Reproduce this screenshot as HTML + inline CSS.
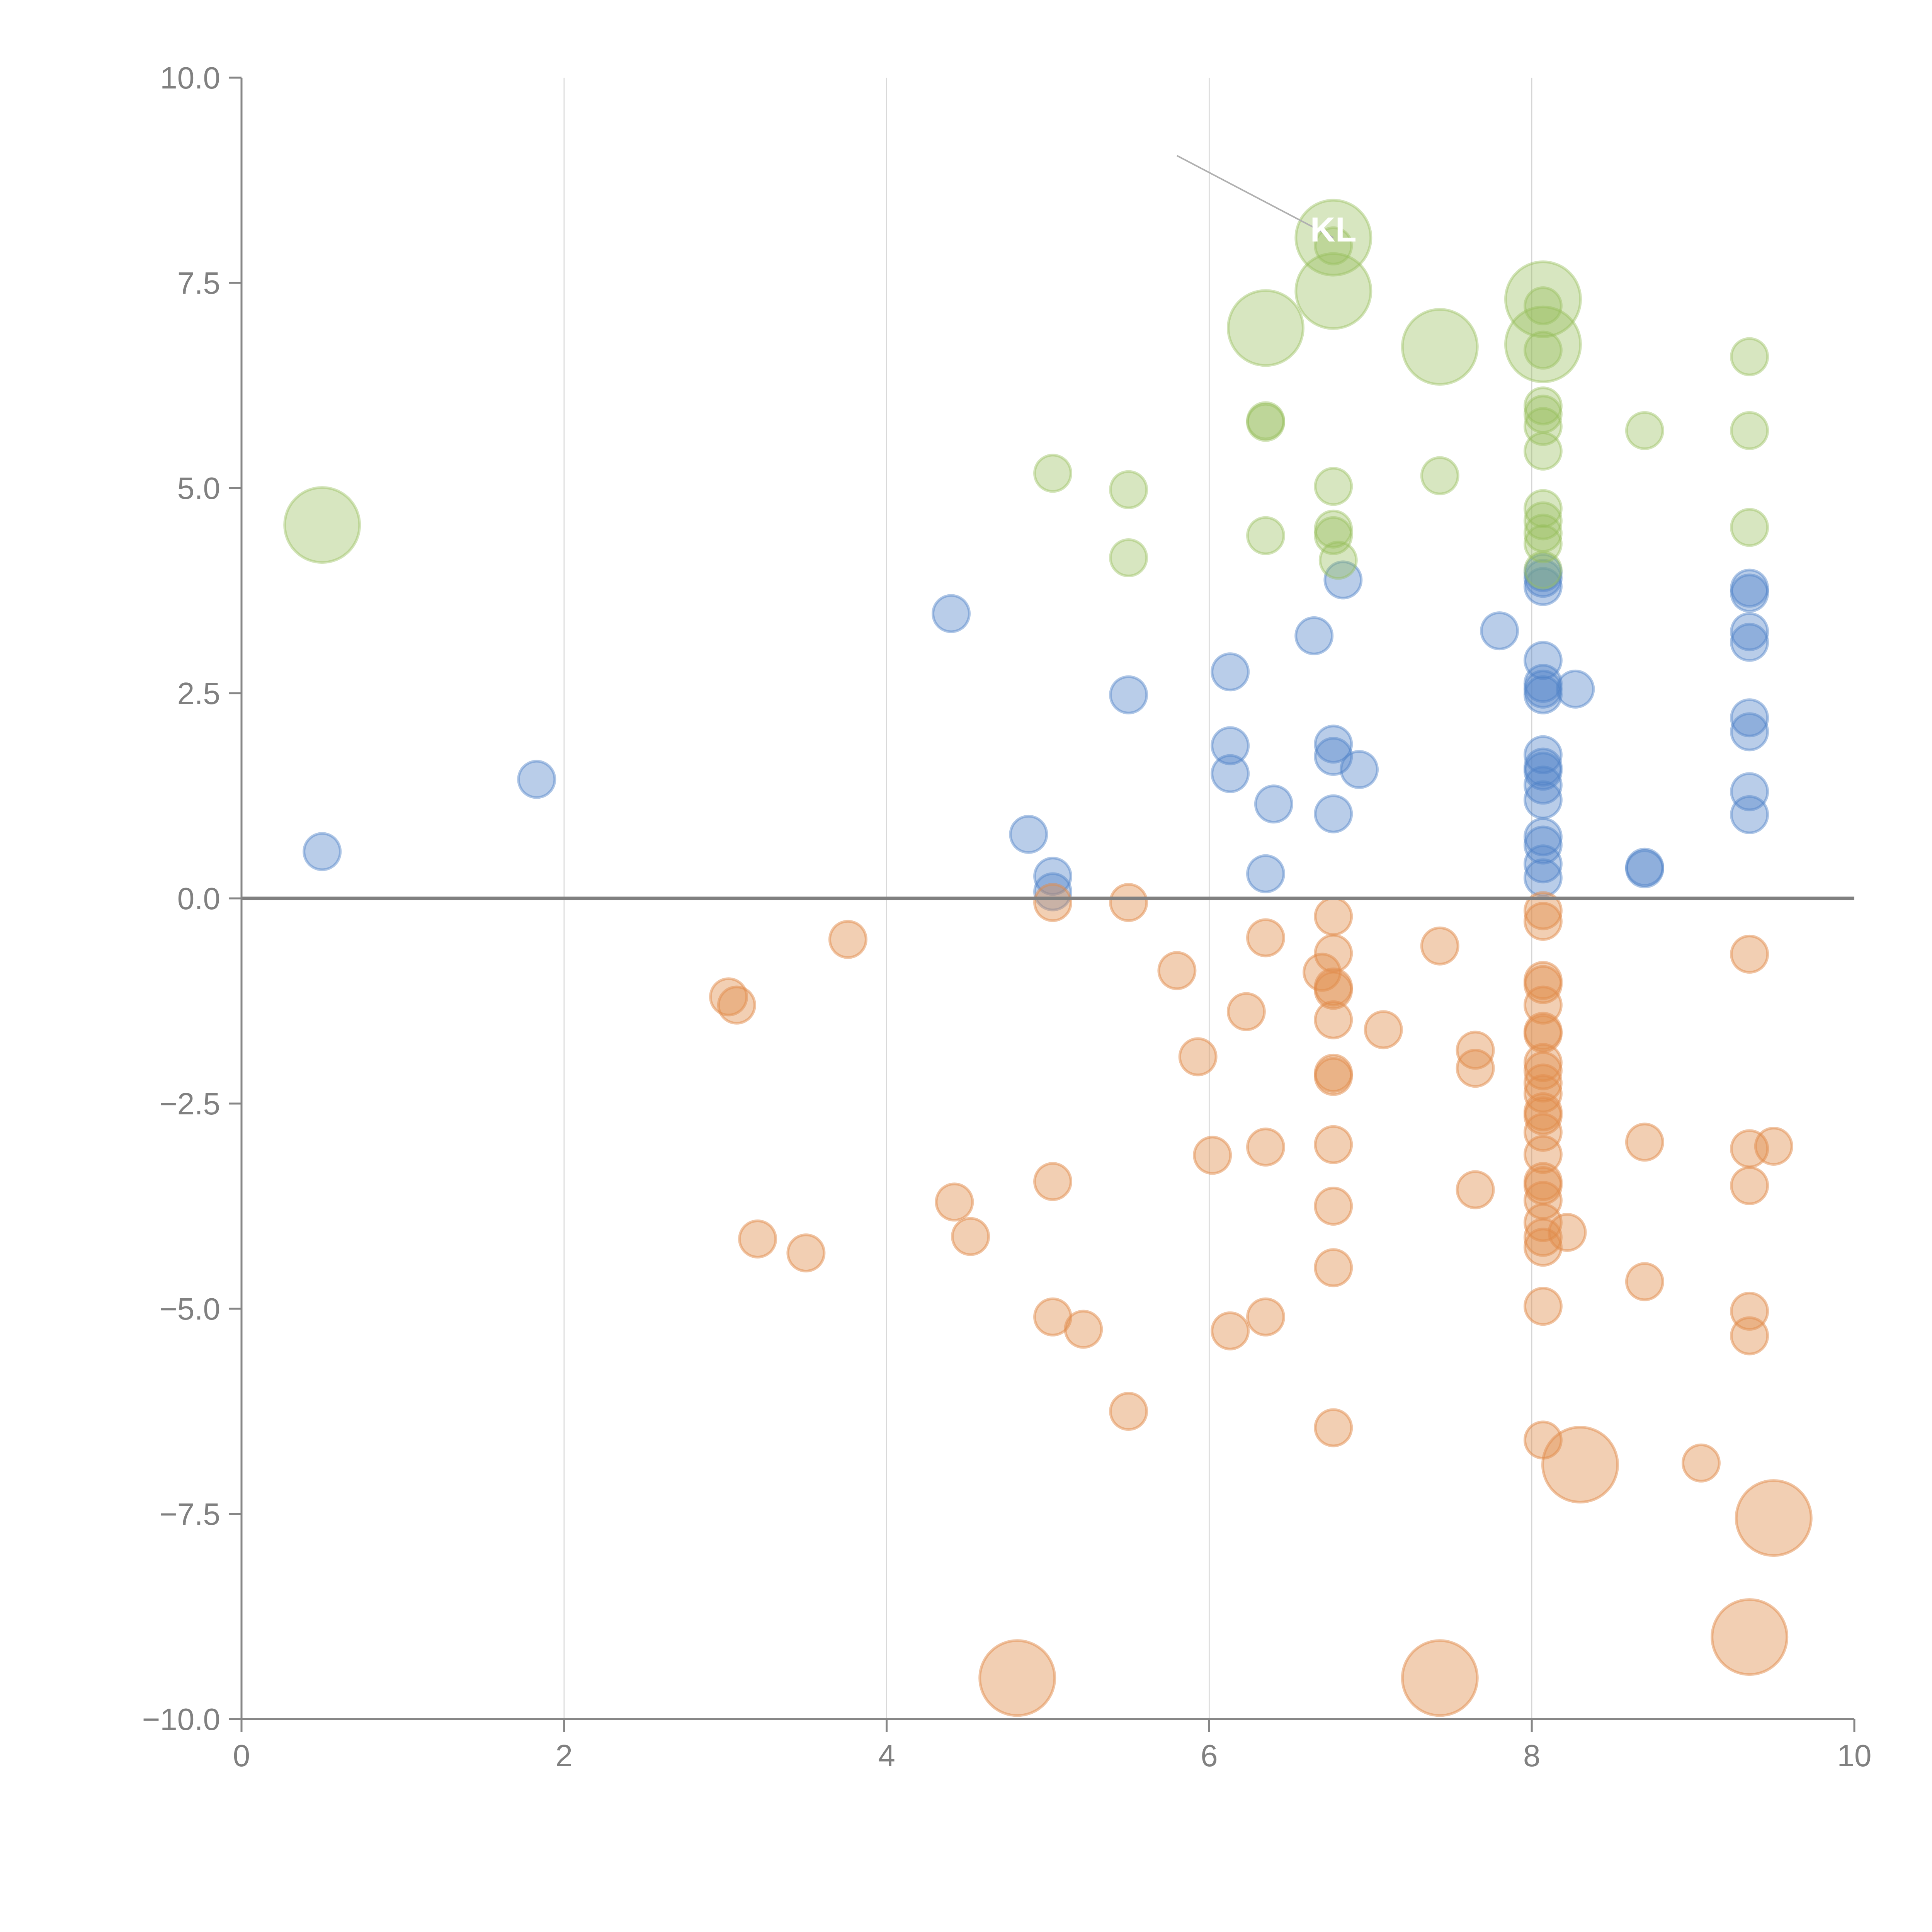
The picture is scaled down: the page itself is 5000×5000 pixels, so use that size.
<!DOCTYPE html>
<html><head><meta charset="utf-8"><style>
html,body{margin:0;padding:0;background:#fff}
svg{display:block}
text{font-family:"Liberation Sans",Arial,sans-serif}
</style></head><body>
<svg id="chart" width="5000" height="5000" viewBox="0 0 5000 5000"></svg>
<script>
const xTicks=[0,2,4,6,8,10];
const yTicks=[-10,-7.5,-5,-2.5,0,2.5,5,7.5,10];
const yTickLabels=["\u221210.0","\u22127.5","\u22125.0","\u22122.5","0.0","2.5","5.0","7.5","10.0"];
const greenX=[0.5,6.35,6.77,6.77,7.43,8.07,8.07,5.03,5.5,5.5,6.35,6.35,6.35,6.77,6.77,6.77,6.8,6.77,7.43,8.07,8.07,8.07,8.07,8.07,8.07,8.07,8.07,8.07,8.07,8.07,8.7,9.35,9.35,9.35];
const greenY=[4.55,6.95,7.4,8.05,6.72,7.3,6.75,5.18,4.98,4.15,5.8,5.82,4.42,5.02,4.5,4.42,4.12,7.95,5.15,7.22,6.68,6.0,5.9,5.75,5.45,4.75,4.6,4.45,4.32,4.0,5.7,6.6,5.7,4.52];
const greenBig=[1,1,1,1,1,1,1,0,0,0,0,0,0,0,0,0,0,0,0,0,0,0,0,0,0,0,0,0,0,0,0,0,0,0];
const blueX=[0.5,1.83,4.4,4.88,5.03,5.03,5.5,6.13,6.13,6.13,6.4,6.35,6.65,6.77,6.77,6.77,6.83,6.93,7.8,8.07,8.07,8.07,8.07,8.07,8.07,8.07,8.07,8.07,8.07,8.07,8.07,8.07,8.07,8.07,8.07,8.27,8.7,8.7,9.35,9.35,9.35,9.35,9.35,9.35,9.35,9.35];
const blueY=[0.57,1.45,3.47,0.78,0.27,0.08,2.48,2.76,1.86,1.52,1.15,0.3,3.2,1.88,1.73,1.03,3.88,1.57,3.26,3.97,3.9,3.8,2.9,2.62,2.55,2.48,1.75,1.6,1.55,1.38,1.2,0.75,0.65,0.42,0.25,2.55,0.38,0.36,3.78,3.72,3.25,3.12,2.2,2.03,1.3,1.02];
const orangeX=[3.02,3.07,3.2,3.5,3.76,4.42,4.52,5.03,5.03,5.03,5.22,5.5,5.5,5.8,5.93,6.02,6.13,6.23,6.35,6.35,6.35,6.7,6.77,6.77,6.77,6.77,6.77,6.77,6.77,6.77,6.77,6.77,6.77,7.08,7.43,7.65,7.65,7.65,8.07,8.07,8.07,8.07,8.07,8.07,8.07,8.07,8.07,8.07,8.07,8.07,8.07,8.07,8.07,8.07,8.07,8.07,8.07,8.07,8.07,8.07,8.07,8.22,8.7,8.7,9.05,9.35,9.35,9.35,9.35,9.35,9.5,4.81,7.43,8.3,9.35,9.5];
const orangeY=[-1.2,-1.3,-4.15,-4.32,-0.5,-3.7,-4.12,-0.05,-3.45,-5.1,-5.25,-0.05,-6.25,-0.88,-1.93,-3.13,-5.27,-1.38,-0.48,-3.03,-5.1,-0.9,-0.22,-0.67,-1.08,-1.12,-1.48,-2.13,-2.17,-3.0,-3.75,-4.5,-6.45,-1.6,-0.58,-1.85,-2.07,-3.55,-0.15,-0.28,-1.0,-1.05,-1.3,-1.62,-1.65,-2.0,-2.1,-2.25,-2.38,-2.6,-2.65,-2.85,-3.12,-3.45,-3.5,-3.68,-3.95,-4.13,-4.25,-4.97,-6.6,-4.07,-2.97,-4.67,-6.88,-0.68,-3.05,-3.5,-5.03,-5.33,-3.02,-9.5,-9.5,-6.9,-9.0,-7.55];
const orangeBig=orangeX.map((_,i)=>i>=71?1:0);

const X0=625,X1=4799,Y0=4449,Y1=201;
const sx=v=>X0+(v-0)/(10-0)*(X1-X0);
const sy=v=>Y0-(v+10)/20*(Y0-Y1);
const svg=document.getElementById('chart');
const NS='http://www.w3.org/2000/svg';
function mk(tag,attrs){const e=document.createElementNS(NS,tag);for(const k in attrs)e.setAttribute(k,attrs[k]);svg.appendChild(e);return e;}

xTicks.forEach(t=>{
  if(t===0||t===10)return;
  const g=mk('line',{x1:sx(t),x2:sx(t),y1:Y1,y2:Y0,stroke:'#d6d6d6','stroke-width':2.5});
  
  
});

function series(xs,ys,bigs,fill,stroke,name){
  xs.forEach((x,i)=>{
    const c=mk('circle',{cx:sx(x),cy:sy(ys[i]),r:bigs[i]?97:47,fill:fill,stroke:stroke,'stroke-width':7});
    
    
  });
}
series(blueX,blueY,blueX.map(()=>0),'rgba(80,130,200,0.40)','rgba(80,130,200,0.45)','blue-bubble');
series(orangeX,orangeY,orangeBig,'rgba(225,140,75,0.42)','rgba(225,140,75,0.50)','orange-bubble');
series(greenX,greenY,greenBig,'rgba(150,190,90,0.38)','rgba(150,190,90,0.42)','green-bubble');

const an=mk('line',{x1:sx(5.8),y1:sy(9.05),x2:sx(6.77),y2:sy(8.05),stroke:'#b0b0b0','stroke-width':4});


const lbl=mk('text',{x:sx(6.77),y:sy(8.05)+10,'font-size':90,fill:'#fff','text-anchor':'middle','font-weight':'bold'});
lbl.textContent='KL';



const z=mk('line',{x1:X0,x2:X1,y1:sy(0),y2:sy(0),stroke:'#808080','stroke-width':9});



const ya=mk('line',{x1:X0,x2:X0,y1:Y1,y2:Y0+33,stroke:'#868686','stroke-width':5});


const xa=mk('line',{x1:X0-33,x2:X1,y1:Y0,y2:Y0,stroke:'#868686','stroke-width':5});



yTicks.forEach((t,i)=>{
  const tk=mk('line',{x1:X0-33,x2:X0,y1:sy(t),y2:sy(t),stroke:'#868686','stroke-width':5});
  
  
  const tx=mk('text',{x:X0-55,y:sy(t)+28,'font-size':80,fill:'#808080','text-anchor':'end'});
  tx.textContent=yTickLabels[i];
  
  
});
xTicks.forEach(t=>{
  const tk=mk('line',{x1:sx(t),x2:sx(t),y1:Y0,y2:Y0+33,stroke:'#868686','stroke-width':5});
  
  
  const tx=mk('text',{x:sx(t),y:Y0+122,'font-size':80,fill:'#808080','text-anchor':'middle'});
  tx.textContent=String(t);
  
  
});
</script>
</body></html>
